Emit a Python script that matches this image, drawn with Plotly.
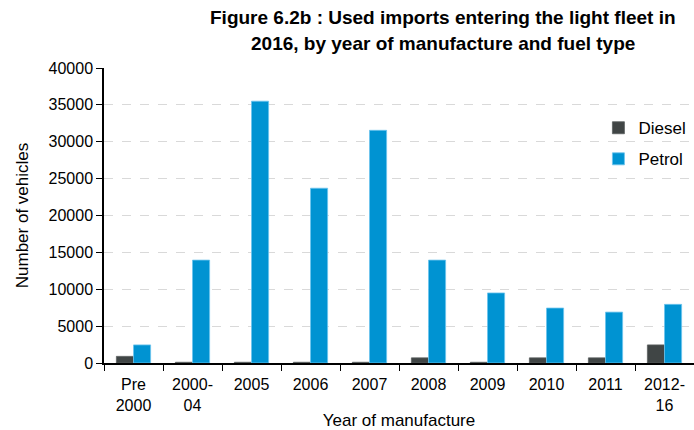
import plotly.graph_objects as go

# Year-of-manufacture groups and vehicle counts by fuel type
categories = ["Pre<br>2000", "2000-<br>04", "2005", "2006", "2007", "2008",
              "2009", "2010", "2011", "2012-<br>16"]
diesel = [900, 100, 100, 100, 100, 700, 100, 700, 700, 2450]
petrol = [2450, 13950, 35500, 23700, 31550, 13950, 9500, 7450, 6900, 7950]
y_ticks = [0, 5000, 10000, 15000, 20000, 25000, 30000, 35000, 40000]
title_lines = ["Figure 6.2b : Used imports entering the light fleet in",
               "2016, by year of manufacture and fuel type"]

FONT = "Liberation Sans, Arial, sans-serif"

fig = go.Figure()
fig.add_trace(go.Bar(
    x=categories, y=diesel, name="Diesel", legendgroup="d",
    marker=dict(color="#404545", line=dict(color="#5a5f5f", width=0.8)),
))
fig.add_trace(go.Bar(
    x=categories, y=petrol, name="Petrol", legendgroup="p",
    marker=dict(color="#0093D2", line=dict(color="#6cc4ee", width=0.8)),
))

# Two-line bold heading, each line placed separately for even spacing
for i, line in enumerate(title_lines):
    fig.add_annotation(
        text=f"<b>{line}</b>", xref="paper", yref="paper",
        x=0.5746, y=1 + (51 - 27 * i) / 295, xanchor="center", yanchor="middle",
        showarrow=False, font=dict(family=FONT, size=19, color="black"),
    )

fig.update_layout(
    width=694, height=430,
    margin=dict(l=104, r=0, t=68, b=67),
    paper_bgcolor="white", plot_bgcolor="white",
    barmode="group", bargap=0.42, bargroupgap=0,
    font=dict(family=FONT, size=16, color="black"),
    legend=dict(
        x=0.838, y=0.857, xanchor="left", yanchor="top",
        font=dict(family=FONT, size=17, color="black"),
        bgcolor="rgba(0,0,0,0)", tracegroupgap=6,
        traceorder="grouped",
    ),
)

fig.update_xaxes(
    showline=True, linecolor="black", linewidth=1.5,
    ticks="outside", tickson="boundaries", ticklen=6, tickcolor="black",
    ticklabelstandoff=6,
    tickfont=dict(family=FONT, size=16, color="black"),
    title=dict(text="Year of manufacture", font=dict(family=FONT, size=17), standoff=4),
    showgrid=False,
)
fig.update_yaxes(
    range=[0, 40000], tickvals=y_ticks, tickformat="d",
    showline=True, linecolor="black", linewidth=1.5,
    ticks="outside", ticklen=6, tickcolor="black",
    tickfont=dict(family=FONT, size=16, color="black"),
    title=dict(text="Number of vehicles", font=dict(family=FONT, size=17), standoff=16),
    showgrid=True, gridcolor="#d9d9d9", griddash="dash", gridwidth=1.3,
    zeroline=False,
)

fig.write_html("out.html")
